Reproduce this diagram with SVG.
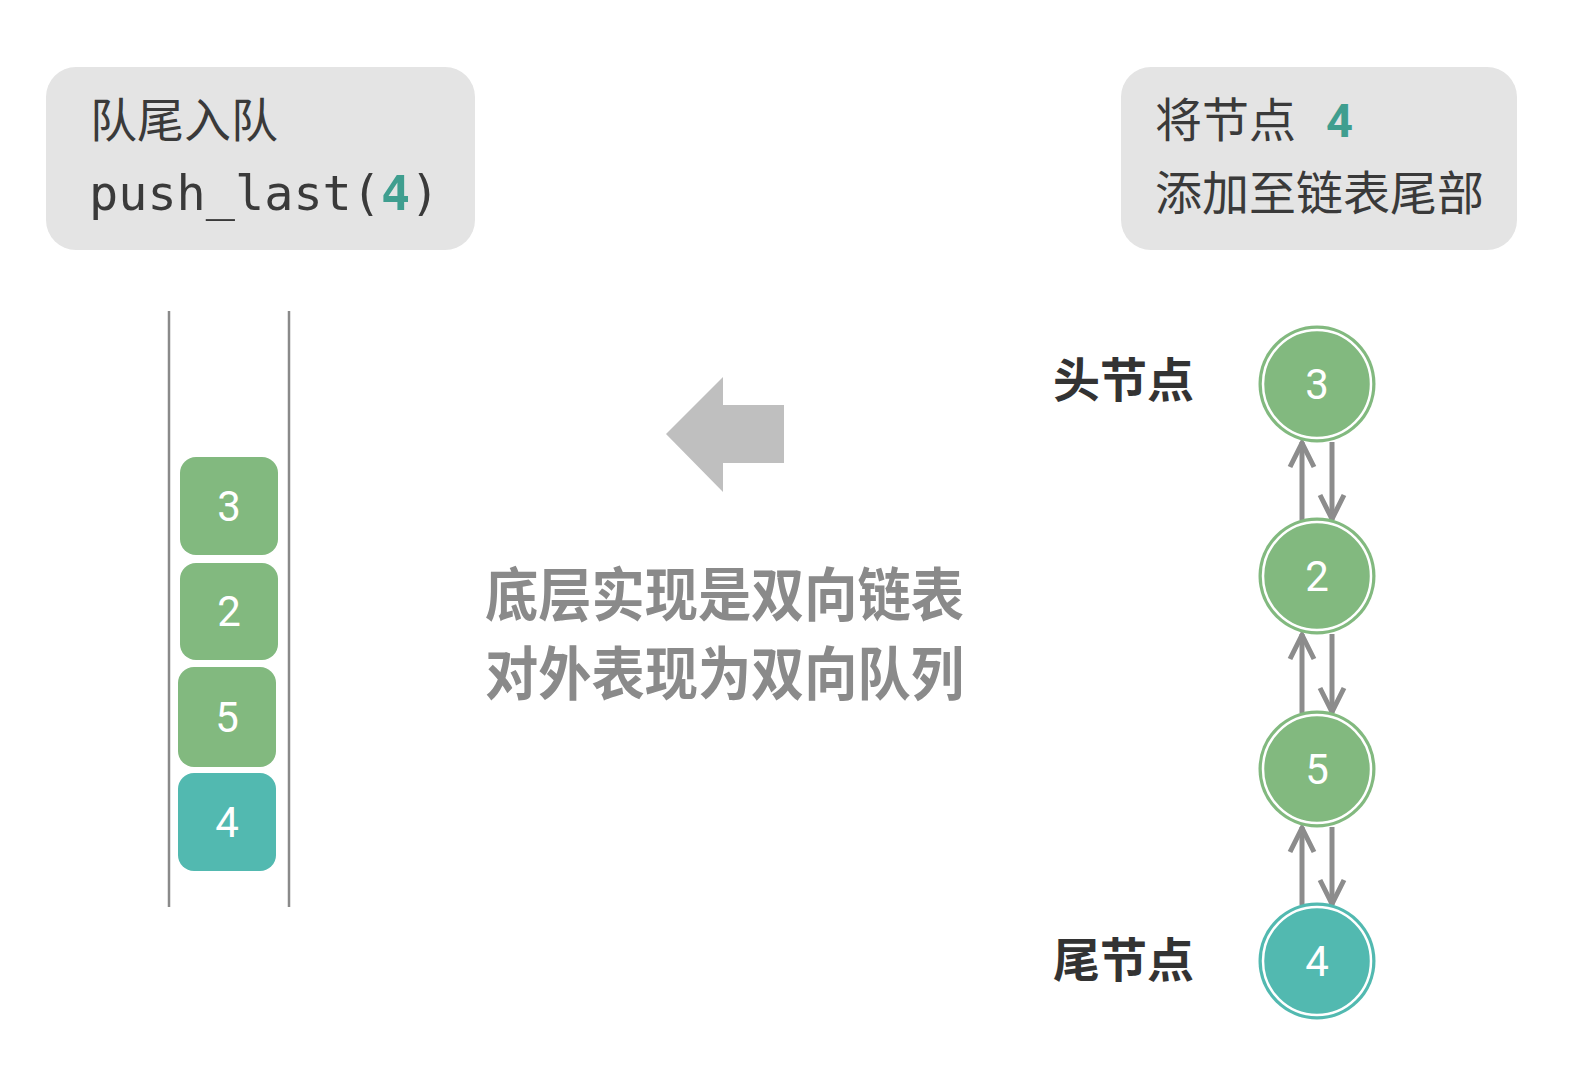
<svg xmlns="http://www.w3.org/2000/svg" width="1590" height="1072" viewBox="0 0 1590 1072">
  <style>
    .panel { fill: #e4e4e4; }
    .cap { font-family: "Noto Sans CJK SC", "Noto Sans", sans-serif; font-size: 47px; fill: #3a3a3a; }
    .mono { font-family: "DejaVu Sans Mono", "Liberation Mono", monospace; font-size: 48.5px; fill: #3a3a3a; }
    .hl { fill: #3f9e8f; font-weight: bold; }
    .lbl { font-family: "Noto Sans CJK SC", "Noto Sans", sans-serif; font-size: 47px; font-weight: bold; fill: #333333; }
    .mid { font-family: "Noto Sans CJK SC", "Noto Sans", sans-serif; font-size: 58px; font-weight: bold; fill: #8a8a8a; }
    .num { font-family: "Roboto", "Open Sans", sans-serif; font-size: 42px; fill: #ffffff; text-anchor: middle; dominant-baseline: central; }
    .green { fill: #82b97f; }
    .teal { fill: #52b9b0; }
    .ring { fill: none; stroke: #ffffff; stroke-width: 2.5; }
    .wall { stroke: #8a8a8a; stroke-width: 2.5; }
    .link { stroke: #8c8c8c; stroke-width: 5; fill: none; stroke-linejoin: miter; }
  </style>
  <rect width="1590" height="1072" fill="#ffffff"/>

  <g id="panel-left">
    <rect class="panel" x="46" y="67" width="429" height="183" rx="30"/>
    <text class="cap" x="90" y="137">队尾入队</text>
    <text class="mono" x="89" y="210">push_last(<tspan class="hl">4</tspan>)</text>
  </g>

  <g id="panel-right">
    <rect class="panel" x="1121" y="67" width="396" height="183" rx="30"/>
    <text class="cap" x="1155" y="137">将节点<tspan class="hl" font-family="Roboto, sans-serif" dx="30">4</tspan></text>
    <text class="cap" x="1155" y="210">添加至链表尾部</text>
  </g>

  <g id="queue">
    <line class="wall" x1="169" y1="311" x2="169" y2="907"/>
    <line class="wall" x1="289" y1="311" x2="289" y2="907"/>
    <g id="q3"><rect class="green" x="180" y="457" width="98" height="98" rx="16"/><text class="num" x="229" y="506">3</text></g>
    <g id="q2"><rect class="green" x="180" y="563" width="98" height="97" rx="16"/><text class="num" x="229" y="611">2</text></g>
    <g id="q5"><rect class="green" x="178" y="667" width="98" height="100" rx="16"/><text class="num" x="227" y="717">5</text></g>
    <g id="q4"><rect class="teal" x="178" y="773" width="98" height="98" rx="16"/><text class="num" x="227" y="822">4</text></g>
  </g>

  <g id="big-arrow">
    <polygon points="666,434 723,377 723,405 784,405 784,463 723,463 723,492" fill="#bfbfbf"/>
  </g>

  <g id="caption">
    <text class="mid" x="485" y="616" textLength="479" lengthAdjust="spacingAndGlyphs">底层实现是双向链表</text>
    <text class="mid" x="485" y="695" textLength="479" lengthAdjust="spacingAndGlyphs">对外表现为双向队列</text>
  </g>

  <g id="label-head"><text class="lbl" x="1053" y="397">头节点</text></g>
  <g id="label-tail"><text class="lbl" x="1053" y="977">尾节点</text></g>

  <g id="connectors">
    <!-- 3 <-> 2 -->
    <path class="link" d="M1302,520 V442"/>
    <path class="link" d="M1290,467 L1302,443 L1314,467"/>
    <path class="link" d="M1332,442 V520"/>
    <path class="link" d="M1320,495 L1332,519 L1344,495"/>
    <!-- 2 <-> 5 -->
    <path class="link" d="M1302,713 V634"/>
    <path class="link" d="M1290,659 L1302,635 L1314,659"/>
    <path class="link" d="M1332,634 V713"/>
    <path class="link" d="M1320,688 L1332,712 L1344,688"/>
    <!-- 5 <-> 4 -->
    <path class="link" d="M1302,905 V827"/>
    <path class="link" d="M1290,852 L1302,828 L1314,852"/>
    <path class="link" d="M1332,827 V905"/>
    <path class="link" d="M1320,880 L1332,904 L1344,880"/>
  </g>

  <g id="n3"><circle class="green" cx="1317" cy="384" r="58.5"/><circle class="ring" cx="1317" cy="384" r="54"/><text class="num" x="1317" y="384">3</text></g>
  <g id="n2"><circle class="green" cx="1317" cy="576" r="58.5"/><circle class="ring" cx="1317" cy="576" r="54"/><text class="num" x="1317" y="576">2</text></g>
  <g id="n5"><circle class="green" cx="1317" cy="769" r="58.5"/><circle class="ring" cx="1317" cy="769" r="54"/><text class="num" x="1317" y="769">5</text></g>
  <g id="n4"><circle class="teal" cx="1317" cy="961" r="58.5"/><circle class="ring" cx="1317" cy="961" r="54"/><text class="num" x="1317" y="961">4</text></g>
</svg>
